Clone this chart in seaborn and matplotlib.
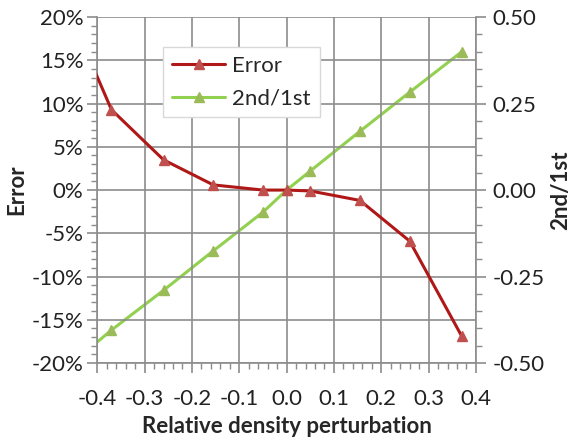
import numpy as np
import pandas as pd
import matplotlib
matplotlib.use("Agg")
import matplotlib.pyplot as plt
import seaborn as sns
from matplotlib.ticker import MultipleLocator, PercentFormatter, FormatStrFormatter

# data (first point lies outside the x range and is clipped)
perturbation = [-0.47, -0.37, -0.26, -0.155, -0.05, 0.0, 0.05, 0.155, 0.26, 0.37]
error_pct = [22.0, 9.3, 3.5, 0.6, 0.0, 0.0, -0.1, -1.2, -5.9, -16.9]
ratio_2nd_1st = [-0.52, -0.405, -0.29, -0.176, -0.064, 0.0, 0.055, 0.17, 0.283, 0.40]

df = pd.DataFrame({"x": perturbation, "Error": error_pct, "2nd/1st": ratio_2nd_1st})
marked = df.iloc[1:]

sns.set_style("white")
plt.rcParams["font.family"] = ["Lato", "DejaVu Sans"]
plt.rcParams["axes.unicode_minus"] = False

fig = plt.figure(figsize=(5.72, 4.41), dpi=100)
ax = fig.add_axes([0.170, 0.177, 0.662, 0.784])
ax2 = ax.twinx()

err_line = "#B01818"
err_mark = "#C0504D"
grn_line = "#92D050"
grn_mark = "#9BBB59"

# lines (full data, clipped by axes)
sns.lineplot(data=df, x="x", y="Error", ax=ax, color=err_line, linewidth=2.2, zorder=3)
sns.lineplot(data=df, x="x", y="2nd/1st", ax=ax2, color=grn_line, linewidth=2.2, zorder=3)
# markers on visible points
ax.plot(marked["x"], marked["Error"], linestyle="none", marker="^", markersize=7,
        color=err_mark, zorder=4)
ax2.plot(marked["x"], marked["2nd/1st"], linestyle="none", marker="^", markersize=7,
         color=grn_mark, zorder=4)

ax.set_xlim(-0.4, 0.4)
ax.set_ylim(-20, 20)
ax2.set_ylim(-0.5, 0.5)

ax.xaxis.set_major_locator(MultipleLocator(0.1))
ax.xaxis.set_minor_locator(MultipleLocator(0.02))
ax.xaxis.set_major_formatter(FormatStrFormatter("%.1f"))
ax.yaxis.set_major_locator(MultipleLocator(5))
ax.yaxis.set_minor_locator(MultipleLocator(1))
ax.yaxis.set_major_formatter(PercentFormatter(decimals=0))
ax2.yaxis.set_major_locator(MultipleLocator(0.25))
ax2.yaxis.set_minor_locator(MultipleLocator(0.05))
ax2.yaxis.set_major_formatter(FormatStrFormatter("%.2f"))

ax.grid(True, which="major", color="#8c8c8c", linewidth=1.2)
ax2.grid(False)

for a in (ax, ax2):
    for s in a.spines.values():
        s.set_visible(False)
ax.spines["left"].set_visible(True)
ax.spines["bottom"].set_visible(True)
ax2.spines["right"].set_visible(True)
for s in (ax.spines["left"], ax.spines["bottom"], ax2.spines["right"]):
    s.set_color("#8c8c8c")
    s.set_linewidth(1.2)

tick_kw = dict(color="#8c8c8c", direction="out")
ax.tick_params(axis="both", which="major", length=7, width=1.2, labelsize=16,
               labelcolor="#222222", pad=3, bottom=True, left=True, **tick_kw)
ax.tick_params(axis="x", which="major", pad=12)
ax.tick_params(axis="both", which="minor", length=4, width=1, bottom=True, left=True, **tick_kw)
ax2.tick_params(axis="y", which="major", length=7, width=1.2, labelsize=16,
                labelcolor="#222222", pad=5, right=True, **tick_kw)
ax2.tick_params(axis="y", which="minor", length=4, width=1, right=True, **tick_kw)

ax.set_xlabel("Relative density perturbation", fontsize=16, fontweight="bold", labelpad=5)
ax.set_ylabel("Error", fontsize=16, fontweight="bold", labelpad=3)
ax2.set_ylabel("2nd/1st", fontsize=16, fontweight="bold", labelpad=4)

handles = [
    plt.Line2D([], [], color=err_line, linewidth=2.2, marker="^", markersize=7,
               markerfacecolor=err_mark, markeredgecolor=err_mark),
    plt.Line2D([], [], color=grn_line, linewidth=2.2, marker="^", markersize=7,
               markerfacecolor=grn_mark, markeredgecolor=grn_mark),
]
leg = ax.legend(handles, ["Error", "2nd/1st"], loc="upper left",
                bbox_to_anchor=(0.18, 0.925), fontsize=16, frameon=True,
                fancybox=False, edgecolor="#d9d9d9", framealpha=1,
                handlelength=2.4, borderpad=0.4, labelspacing=0.55, handletextpad=0.3)
leg.set_bbox_to_anchor((0.145, 0.945), transform=ax.transAxes)
leg.get_frame().set_linewidth(1)
leg.set_zorder(10)
ax.set_zorder(ax2.get_zorder() + 1)
ax.patch.set_visible(False)

fig.savefig("out.png", dpi=100)
